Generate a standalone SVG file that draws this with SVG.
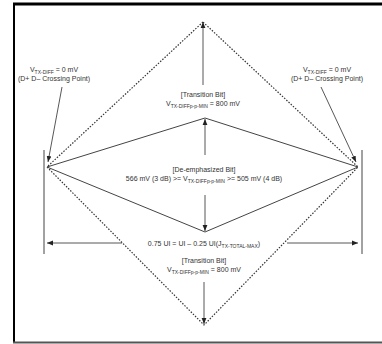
<svg xmlns="http://www.w3.org/2000/svg" width="382" height="344" viewBox="0 0 382 344">
<defs>
<marker id="ah" viewBox="0 0 10 10" refX="10" refY="5" markerWidth="6" markerHeight="6" orient="auto" markerUnits="userSpaceOnUse">
<path d="M0,1 L10,5 L0,9 Z" fill="#222"/>
</marker>
<style>
.t{font-family:"Liberation Sans",Arial,sans-serif;font-size:7px;fill:#333;text-anchor:middle}
.s{font-size:5px}
.sol{stroke:#444;stroke-width:1;fill:none}
.dot{stroke:#333;stroke-width:1.2;fill:none;stroke-dasharray:1.5 1.5}
.ar{stroke:#444;stroke-width:0.9;fill:none;marker-end:url(#ah)}
</style>
</defs>
<rect width="382" height="344" fill="#fff"/>
<g id="frame">
<line x1="13" y1="4" x2="382" y2="4" stroke="#000" stroke-width="3"/>
<line x1="14" y1="3" x2="14" y2="343" stroke="#000" stroke-width="2"/>
<line x1="13" y1="342.5" x2="382" y2="342.5" stroke="#555" stroke-width="2"/>
</g>
<g id="connectors">
<polygon class="dot" points="203,22 47,167 204,325 358,167"/>
<polyline class="sol" points="47,167 205,118 358,167"/>
<polyline class="sol" points="47,167 205,232 358,167"/>
<line class="sol" x1="44" y1="150" x2="44" y2="254"/>
<line class="sol" x1="362" y1="150" x2="362" y2="254"/>
<line class="ar" x1="203" y1="85" x2="203" y2="22"/>
<line class="ar" x1="205" y1="155" x2="205" y2="119"/>
<line class="ar" x1="205" y1="195" x2="205" y2="231"/>
<line class="ar" x1="204" y1="282" x2="204" y2="324"/>
<line class="ar" x1="122" y1="243" x2="47" y2="243"/>
<line class="ar" x1="287" y1="243" x2="358" y2="243"/>
<line class="ar" x1="62" y1="87" x2="48" y2="162"/>
<line class="ar" x1="321" y1="87" x2="356" y2="162"/>
</g>
<g id="label-left">
<text class="t" x="54" y="72">V<tspan class="s" dy="1.5">TX-DIFF</tspan><tspan dy="-1.5"> = 0 mV</tspan></text>
<text class="t" x="54" y="81">(D+ D– Crossing Point)</text>
</g>
<g id="label-right">
<text class="t" x="327" y="72">V<tspan class="s" dy="1.5">TX-DIFF</tspan><tspan dy="-1.5"> = 0 mV</tspan></text>
<text class="t" x="327" y="81">(D+ D– Crossing Point)</text>
</g>
<g id="label-top">
<text class="t" x="203" y="97">[Transition Bit]</text>
<text class="t" x="203" y="106">V<tspan class="s" dy="1.5">TX-DIFFp-p-MIN</tspan><tspan dy="-1.5"> = 800 mV</tspan></text>
</g>
<g id="label-mid">
<text class="t" x="204" y="172">[De-emphasized Bit]</text>
<text class="t" x="204" y="181">566 mV (3 dB) &gt;= V<tspan class="s" dy="1.5">TX-DIFFp-p-MIN</tspan><tspan dy="-1.5"> &gt;= 505 mV (4 dB)</tspan></text>
</g>
<g id="label-ui">
<text class="t" x="204" y="246">0.75 UI = UI – 0.25 UI(J<tspan class="s" dy="1.5">TX-TOTAL-MAX</tspan><tspan dy="-1.5">)</tspan></text>
</g>
<g id="label-bottom">
<text class="t" x="204" y="263">[Transition Bit]</text>
<text class="t" x="204" y="272">V<tspan class="s" dy="1.5">TX-DIFFp-p-MIN</tspan><tspan dy="-1.5"> = 800 mV</tspan></text>
</g>
</svg>
